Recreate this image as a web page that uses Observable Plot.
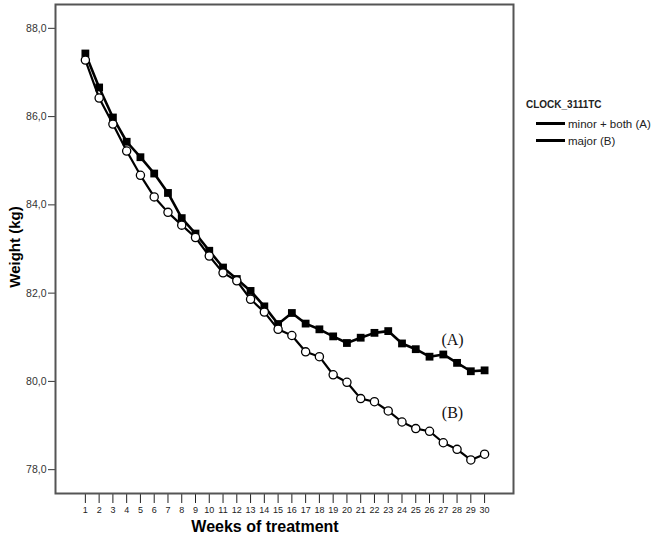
<!DOCTYPE html>
<html>
<head>
<meta charset="utf-8">
<script src="https://cdn.jsdelivr.net/npm/d3@7"></script>
<script src="https://cdn.jsdelivr.net/npm/@observablehq/plot@0.6"></script>
<style>
  body { margin: 0; background: #fff; font-family: Arial, "Liberation Sans", sans-serif; }
  #wrap { position: relative; width: 661px; height: 539px; }
  .abs { position: absolute; white-space: nowrap; color: #000; }
</style>
</head>
<body>
<div id="wrap"></div>
<script>
const weeks = d3.range(1, 31);
const seriesA = [87.43, 86.66, 85.98, 85.43, 85.08, 84.71, 84.27, 83.70, 83.35, 82.96,
                 82.58, 82.32, 82.05, 81.70, 81.30, 81.55, 81.31, 81.18, 81.02, 80.87,
                 80.99, 81.10, 81.14, 80.86, 80.73, 80.56, 80.61, 80.42, 80.23, 80.25];
const seriesB = [87.28, 86.42, 85.83, 85.22, 84.67, 84.18, 83.83, 83.54, 83.26, 82.84,
                 82.46, 82.28, 81.86, 81.57, 81.18, 81.04, 80.67, 80.56, 80.15, 79.98,
                 79.61, 79.54, 79.33, 79.08, 78.93, 78.87, 78.61, 78.46, 78.22, 78.35];
const seriesNames = ["minor + both (A)", "major (B)"];
const yTicks = [78, 80, 82, 84, 86, 88];
const annotations = [{x: 27.67, y: 80.93, label: "(A)"}, {x: 27.67, y: 79.28, label: "(B)"}];

const dataA = weeks.map((w, i) => ({week: w, weight: seriesA[i]}));
const dataB = weeks.map((w, i) => ({week: w, weight: seriesB[i]}));

const chart = Plot.plot({
  width: 661,
  height: 539,
  marginLeft: 55,
  marginTop: 4,
  marginRight: 148,
  marginBottom: 46,
  style: {fontFamily: "Arial, 'Liberation Sans', sans-serif", background: "#fff"},
  x: {domain: [-1.17, 32.1]},
  y: {domain: [77.46, 88.54]},
  marks: [
    Plot.axisX({ticks: weeks, tickSize: 10, tickPadding: 3, fontSize: 9, tickFormat: d => String(d), label: null, color: "#222"}),
    Plot.axisY({ticks: yTicks, tickSize: 7, tickPadding: 2, fontSize: 10.5, tickFormat: d => d.toFixed(1).replace(".", ","), label: null, color: "#333"}),
    Plot.line(dataA, {x: "week", y: "weight", stroke: "#000", strokeWidth: 2.6}),
    Plot.dot(dataA, {x: "week", y: "weight", symbol: "square", r: 4.4, fill: "#000", stroke: "none"}),
    Plot.line(dataB, {x: "week", y: "weight", stroke: "#000", strokeWidth: 2.2}),
    Plot.dot(dataB, {x: "week", y: "weight", symbol: "circle", r: 4.1, fill: "#fff", stroke: "#000", strokeWidth: 1.3}),
    Plot.text(annotations, {x: "x", y: "y", text: "label", fontSize: 16, fontFamily: "'Liberation Serif', 'Times New Roman', serif", fill: "#111"}),
    Plot.frame({stroke: "#555", strokeWidth: 2})
  ]
});

const wrap = document.getElementById("wrap");
wrap.appendChild(chart);

function addText(txt, style) {
  const d = document.createElement("div");
  d.className = "abs";
  d.textContent = txt;
  Object.assign(d.style, style);
  wrap.appendChild(d);
  return d;
}
// axis titles
addText("Weeks of treatment", {left: "265px", top: "527px", transform: "translate(-50%,-50%)", fontWeight: "bold", fontSize: "16px"});
addText("Weight (kg)", {left: "14px", top: "247px", transform: "translate(-50%,-50%) rotate(-90deg)", fontWeight: "bold", fontSize: "15px"});

// legend
addText("CLOCK_3111TC", {left: "526px", top: "104px", transform: "translateY(-50%)", fontWeight: "bold", fontSize: "10px", color: "#222"});
seriesNames.forEach((name, i) => {
  const y = 123 + i * 17;
  const line = document.createElement("div");
  line.className = "abs";
  Object.assign(line.style, {left: "536px", top: (y - 1.5) + "px", width: "29px", height: "3px", background: "#000"});
  wrap.appendChild(line);
  addText(name, {left: "568px", top: (y + 1) + "px", transform: "translateY(-50%)", fontSize: "11.5px", color: "#222"});
});
</script>
</body>
</html>
